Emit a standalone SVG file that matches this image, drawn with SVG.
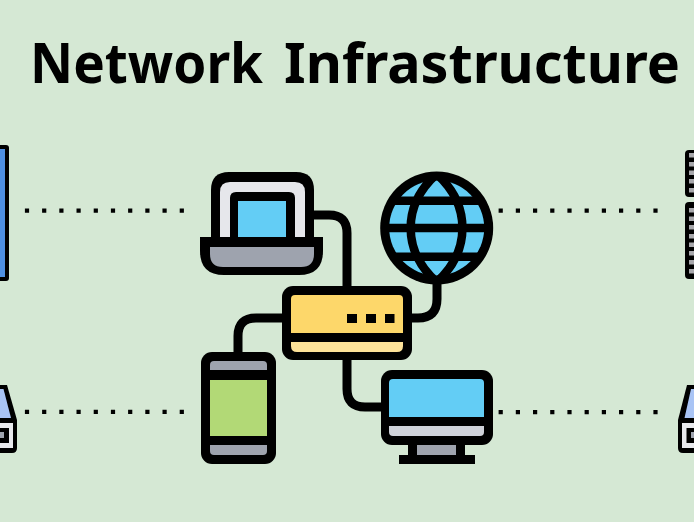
<svg xmlns="http://www.w3.org/2000/svg" width="694" height="522" viewBox="0 0 694 522">
<defs>
<filter id="soft" x="-5%" y="-5%" width="110%" height="110%"><feGaussianBlur stdDeviation="0.5"/></filter>
<clipPath id="globeClip"><circle cx="436.7" cy="228" r="52"/></clipPath>
</defs>
<style>
.k{fill:#000}
.ln{fill:none;stroke:#000;stroke-width:9}
.gl{fill:none;stroke:#000;stroke-width:8.5}
.dots{fill:none;stroke:#000;stroke-width:4.2;stroke-dasharray:4.2 13}
.blue{fill:#63cdf5}
.gray{fill:#9ea3ae}
.lgray{fill:#cfd2d9}
.srv{fill:#a8a8ac}
.title{font-family:"Noto Sans",sans-serif;font-weight:700;font-size:56px;fill:#000}
</style>
<rect width="694" height="522" fill="#d5e8d4"/>
<g filter="url(#soft)">
<text class="title" x="30" y="83" textLength="233" lengthAdjust="spacingAndGlyphs">Network</text>
<text class="title" x="284" y="83" textLength="396" lengthAdjust="spacingAndGlyphs">Infrastructure</text>
<g id="connectors">
<path class="ln" d="M312 215H329Q347 215 347 233V288"/>
<path class="ln" d="M437 280V299Q437 318 418 318H410"/>
<path class="ln" d="M284 318H256Q238 318 238 336V354"/>
<path class="ln" d="M347 358V389Q347 407 365 407H383"/>
<path class="dots" d="M24.900 210.700H186"/>
<path class="dots" d="M498.600 210.700H660"/>
<path class="dots" d="M24.900 411.800H186"/>
<path class="dots" d="M498.600 412.200H660"/>
</g>
<g id="tablet-left">
<rect x="-10" y="145" width="19" height="136" rx="3" class="k"/>
<rect x="-10" y="149" width="15" height="128" fill="#4f90e2"/>
</g>
<g id="server-right">
<rect x="685" y="150" width="20" height="47" rx="4" class="k"/>
<rect x="685" y="202" width="20" height="77" rx="4" class="k"/>
<rect x="689" y="153" width="5" height="4.500" class="srv"/>
<rect x="689" y="162" width="5" height="4.500" class="srv"/>
<rect x="689" y="170.500" width="5" height="4.500" class="srv"/>
<rect x="689" y="179" width="5" height="4.500" class="srv"/>
<rect x="689" y="188" width="5" height="4.500" class="srv"/>
<rect x="689" y="208" width="5" height="4.500" class="srv"/>
<rect x="689" y="216.500" width="5" height="4.500" class="srv"/>
<rect x="689" y="225" width="5" height="4.500" class="srv"/>
<rect x="689" y="234" width="5" height="4.500" class="srv"/>
<rect x="689" y="242.500" width="5" height="4.500" class="srv"/>
<rect x="689" y="251" width="5" height="4.500" class="srv"/>
<rect x="689" y="260" width="5" height="4.500" class="srv"/>
<rect x="689" y="269" width="5" height="4.500" class="srv"/>
</g>
<g id="drive-left">
<path class="k" d="M-5 385H7L17 420V448Q17 453 12 453H-5Z"/>
<path d="M-5 389H3.500L11 418H-5Z" fill="#a9c4f5"/>
<rect x="-5" y="423" width="18" height="25" fill="#e8e9ed"/>
<rect x="-5" y="428" width="14" height="15" class="k"/>
<rect x="-5" y="432" width="9" height="6" class="gray"/>
</g>
<g id="drive-right">
<path class="k" d="M699 385H687L678 420V448Q678 453 683 453H699Z"/>
<path d="M699 389H691L684.500 418H699Z" fill="#a9c4f5"/>
<rect x="682" y="423" width="17" height="25" fill="#e8e9ed"/>
<rect x="686.500" y="428" width="12" height="15" class="k"/>
<rect x="691" y="432" width="8" height="6" class="gray"/>
</g>
<g id="laptop">
<path class="k" d="M211 240V190Q211 172 229 172H296Q314 172 314 190V240Z"/>
<path d="M220 237V192Q220 182 230 182H295Q305 182 305 192V237Z" fill="#e6e7eb"/>
<path class="k" d="M230 240V198Q230 192 236 192H289Q295 192 295 198V240Z"/>
<rect x="238" y="201" width="48" height="37" class="blue"/>
<path class="k" d="M200 237H323V251Q323 275 299 275H224Q200 275 200 251Z"/>
<path d="M210 247H314V254Q314 267 301 267H223Q210 267 210 254Z" class="gray"/>
</g>
<g id="globe">
<circle cx="436.700" cy="228" r="56.500" class="k"/>
<circle cx="436.700" cy="228" r="47.500" class="blue"/>
<g class="gl" clip-path="url(#globeClip)">
<path d="M436.700 174C402 205 402 251 436.700 282C471 251 471 205 436.700 174Z"/>
<path d="M380 200.700H494M380 228H494M380 256.700H494"/>
</g>
</g>
<g id="router">
<rect x="282" y="286" width="130" height="74" rx="11" class="k"/>
<path d="M291 333V299Q291 295 295 295H399Q403 295 403 299V333Z" fill="#fdd76b"/>
<path d="M291 342H403V346Q403 352 397 352H297Q291 352 291 346Z" fill="#fde299"/>
<rect x="347" y="314" width="10" height="9" class="k"/>
<rect x="366" y="314" width="10" height="9" class="k"/>
<rect x="385" y="314" width="9.500" height="9" class="k"/>
</g>
<g id="phone">
<rect x="201" y="352" width="75" height="112" rx="11" class="k"/>
<path d="M210 370V365Q210 361 214 361H263Q267 361 267 365V370Z" class="gray"/>
<rect x="210" y="380" width="57" height="56" fill="#b2d976"/>
<path d="M210 445H267V451Q267 455 263 455H214Q210 455 210 451Z" class="gray"/>
</g>
<g id="monitor">
<rect x="408" y="440" width="57" height="18" class="k"/>
<rect x="417" y="445" width="39" height="10" class="gray"/>
<rect x="399" y="455" width="76" height="9" class="k"/>
<rect x="381" y="370" width="112" height="75" rx="11" class="k"/>
<path d="M389 417V383Q389 379 393 379H480Q484 379 484 383V417Z" class="blue"/>
<path d="M389 426H484V432Q484 436 480 436H393Q389 436 389 432Z" class="lgray"/>
</g>
</g>
</svg>
